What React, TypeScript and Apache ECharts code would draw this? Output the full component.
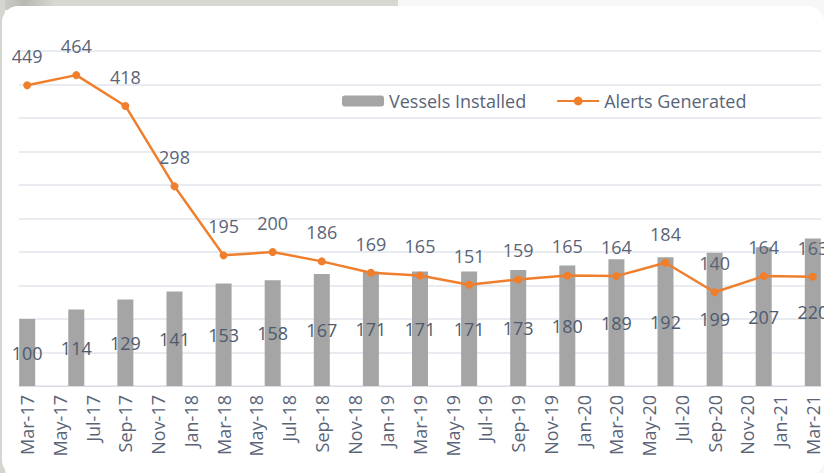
import React, { useEffect, useRef } from "react";
import * as echarts from "echarts";

// Quarterly observations
const quarters = [
  "Mar-17", "Jun-17", "Sep-17", "Dec-17",
  "Mar-18", "Jun-18", "Sep-18", "Dec-18",
  "Mar-19", "Jun-19", "Sep-19", "Dec-19",
  "Mar-20", "Jun-20", "Sep-20", "Dec-20",
  "Mar-21",
];
const vesselsInstalled = [100, 114, 129, 141, 153, 158, 167, 171, 171, 171, 173, 180, 189, 192, 199, 207, 220];
const alertsGenerated = [449, 464, 418, 298, 195, 200, 186, 169, 165, 151, 159, 165, 164, 184, 140, 164, 163];

// Monthly date axis (Mar-17 .. Mar-21)
const monthNames = ["Jan", "Feb", "Mar", "Apr", "May", "Jun", "Jul", "Aug", "Sep", "Oct", "Nov", "Dec"];
const startYear = 17;
const startMonth = 2; // March

const axisMonths: string[] = [];
for (let i = 0; i < 49; i++) {
  const m = (startMonth + i) % 12;
  const y = startYear + Math.floor((startMonth + i) / 12);
  axisMonths.push(`${monthNames[m]}-${y}`);
}

const onAxis = (vals: number[]) => {
  const out: (number | null)[] = axisMonths.map(() => null);
  quarters.forEach((q, i) => {
    const idx = axisMonths.indexOf(q);
    if (idx >= 0) out[idx] = vals[i];
  });
  return out;
};

const TEXT = "#5a6477";
const FONT = "'Open Sans', 'Noto Sans', sans-serif";

export default function App() {
  const ref = useRef<HTMLDivElement>(null);
  useEffect(() => {
    if (!ref.current) return;
    const chart = echarts.init(ref.current, undefined, { renderer: "svg" });
    chart.setOption({
      animation: false,
      textStyle: { fontFamily: FONT },
      legend: {
        left: 337,
        top: 87,
        itemWidth: 42,
        itemHeight: 11,
        itemGap: 30,
        textStyle: { fontSize: 18, color: TEXT, fontFamily: FONT },
        data: ["Vessels Installed", "Alerts Generated"],
      },
      grid: {
        left: 19,
        right: 3,
        top: 51,
        bottom: 87,
        containLabel: false,
        outerBoundsMode: "none",
      },
      xAxis: {
        type: "category",
        data: axisMonths,
        boundaryGap: true,
        axisTick: { show: false },
        axisLine: { lineStyle: { color: "#d9dde3", width: 1 } },
        axisLabel: {
          interval: 1,
          rotate: 90,
          margin: 9,
          fontSize: 18,
          color: TEXT,
          fontFamily: FONT,
        },
      },
      yAxis: {
        type: "value",
        min: 0,
        max: 500,
        interval: 50,
        axisLabel: { show: false },
        axisLine: { show: false },
        axisTick: { show: false },
        splitLine: { lineStyle: { color: "#e1e6ec", width: 1.5 } },
      },
      series: [
        {
          name: "Vessels Installed",
          type: "bar",
          data: onAxis(vesselsInstalled),
          barWidth: 16,
          itemStyle: { color: "#a5a5a5" },
          label: {
            show: true,
            position: "inside",
            fontSize: 18,
            color: "#4f5b6e",
            fontFamily: FONT,
          },
        },
        {
          name: "Alerts Generated",
          type: "line",
          data: onAxis(alertsGenerated),
          connectNulls: true,
          symbol: "circle",
          symbolSize: 8,
          lineStyle: { color: "#f07f2d", width: 2.5 },
          itemStyle: { color: "#f07f2d" },
          label: {
            show: true,
            position: "top",
            distance: 16,
            fontSize: 18,
            color: TEXT,
            fontFamily: FONT,
          },
          z: 3,
        },
      ],
    });
    return () => chart.dispose();
  }, []);

  return (
    <div style={{ position: "fixed", left: 0, top: 0, width: 824, height: 473, background: "#f7f7f7", overflow: "hidden" }}>
      <div style={{ position: "absolute", left: 0, top: 0, width: 398, height: 10, background: "linear-gradient(90deg, #d0d0cb 0%, #b9b9b4 6%, #d8d8d2 14%, #d8d8d2 100%)" }} />
      <div style={{ position: "absolute", left: 0, top: 0, width: 5, height: 473, background: "#d6d6d0" }} />
      <div style={{ position: "absolute", left: 2, top: 6, width: 822, height: 470, background: "#ffffff", borderRadius: 16 }} />
      <div ref={ref} style={{ position: "absolute", left: 0, top: 0, width: 824, height: 473 }} />
    </div>
  );
}
